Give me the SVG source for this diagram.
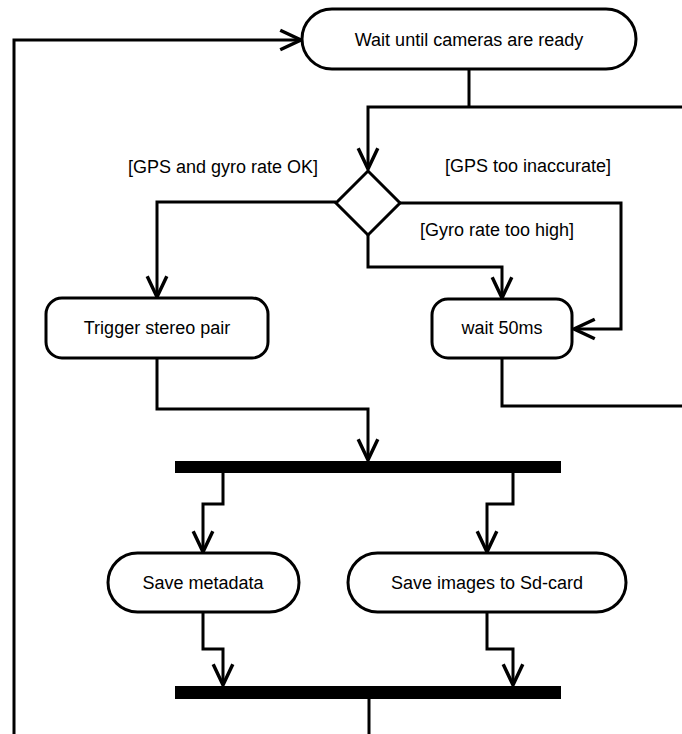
<svg xmlns="http://www.w3.org/2000/svg" width="682" height="734" viewBox="0 0 682 734">
  <style>
    .shape { fill: #ffffff; stroke: #000000; stroke-width: 3; }
    .bar { fill: #000000; stroke: none; }
    .edge { fill: none; stroke: #000000; stroke-width: 3; stroke-linejoin: miter; }
    .label { font-family: "Liberation Sans", Arial, Helvetica, sans-serif; font-size: 18px; fill: #000000; text-anchor: middle; }
  </style>
  <defs>
    <marker id="arrow" markerUnits="userSpaceOnUse" markerWidth="30" markerHeight="30" viewBox="-22 -12 26 24" refX="0" refY="0" orient="auto">
      <path d="M-18,-8.5 L0,0 L-18,8.5" fill="none" stroke="#000000" stroke-width="3" stroke-linejoin="miter"/>
    </marker>
  </defs>
  <rect width="682" height="734" fill="#ffffff"/>

  <!-- connectors -->
  <g id="connectors">
    <!-- loop back to start -->
    <path class="edge" d="M14,734 L14,40 L301,40" marker-end="url(#arrow)"/>
    <!-- start to decision -->
    <path class="edge" d="M469,69 L469,107"/>
    <path class="edge" d="M682,107 L368,107 L368,169" marker-end="url(#arrow)"/>
    <!-- decision branches -->
    <path class="edge" d="M336,202 L157,202 L157,297" marker-end="url(#arrow)"/>
    <path class="edge" d="M400,203 L621,203 L621,329 L574,329" marker-end="url(#arrow)"/>
    <path class="edge" d="M368,235 L368,267 L502,267 L502,298" marker-end="url(#arrow)"/>
    <!-- wait returns upward off the right side -->
    <path class="edge" d="M502,358 L502,406 L682,406"/>
    <!-- trigger to fork -->
    <path class="edge" d="M157,358 L157,409 L368,409 L368,460" marker-end="url(#arrow)"/>
    <!-- fork to parallel actions -->
    <path class="edge" d="M223,473 L223,504 L203,504 L203,552" marker-end="url(#arrow)"/>
    <path class="edge" d="M513,473 L513,504 L487,504 L487,552" marker-end="url(#arrow)"/>
    <!-- parallel actions to join -->
    <path class="edge" d="M203,612 L203,649 L223,649 L223,685" marker-end="url(#arrow)"/>
    <path class="edge" d="M487,612 L487,649 L513,649 L513,685" marker-end="url(#arrow)"/>
    <!-- join onward -->
    <path class="edge" d="M369,699 L369,734"/>
  </g>

  <g id="wait-cameras">
    <rect class="shape" x="302" y="9" width="334" height="60" rx="30" ry="30"/>
    <text class="label" x="469" y="46">Wait until cameras are ready</text>
  </g>

  <g id="decision">
    <polygon class="shape" points="368,171 400,203 368,235 336,203"/>
  </g>

  <g id="guard-ok">
    <text class="label" x="223" y="173">[GPS and gyro rate OK]</text>
  </g>
  <g id="guard-gps">
    <text class="label" x="528" y="172">[GPS too inaccurate]</text>
  </g>
  <g id="guard-gyro">
    <text class="label" x="497" y="236">[Gyro rate too high]</text>
  </g>

  <g id="trigger">
    <rect class="shape" x="46" y="298" width="222" height="60" rx="16" ry="16"/>
    <text class="label" x="157" y="334">Trigger stereo pair</text>
  </g>

  <g id="wait-50ms">
    <rect class="shape" x="432" y="299" width="140" height="59" rx="16" ry="16"/>
    <text class="label" x="502" y="334">wait 50ms</text>
  </g>

  <g id="fork">
    <rect class="bar" x="175" y="461" width="386" height="12"/>
  </g>

  <g id="save-metadata">
    <rect class="shape" x="108" y="553" width="191" height="59" rx="29.5" ry="29.5"/>
    <text class="label" x="203" y="589">Save metadata</text>
  </g>

  <g id="save-images">
    <rect class="shape" x="348" y="553" width="278" height="59" rx="29.5" ry="29.5"/>
    <text class="label" x="487" y="589">Save images to Sd-card</text>
  </g>

  <g id="join">
    <rect class="bar" x="175" y="686" width="386" height="13"/>
  </g>
</svg>
